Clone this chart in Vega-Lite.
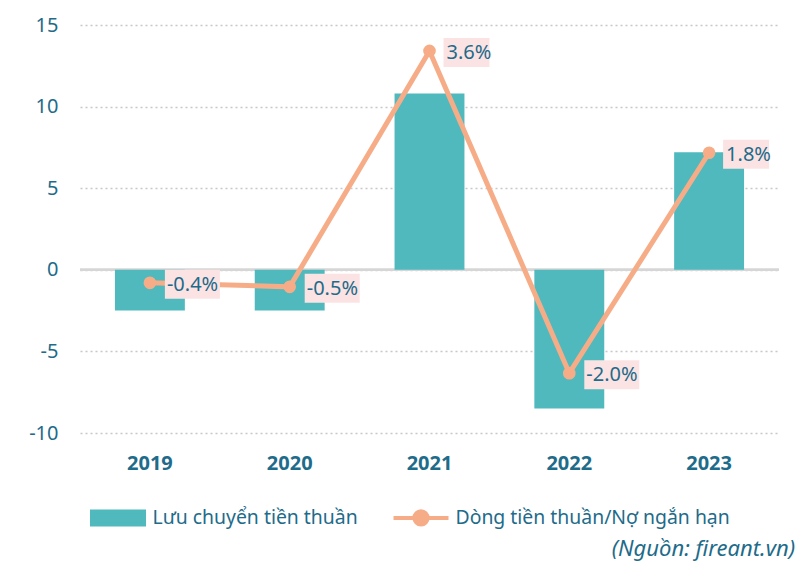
{
  "$schema": "https://vega.github.io/schema/vega-lite/v6.json",
  "width": 699,
  "height": 408,
  "autosize": "none",
  "padding": {"left": 80, "top": 25, "right": 22, "bottom": 132},
  "background": "white",
  "config": {
    "view": {"stroke": null},
    "font": "Noto Sans",
    "locale": {"number": {"decimal": ".", "thousands": ",", "grouping": [3], "currency": ["$", ""], "minus": "-"}}
  },
  "data": {
    "values": [
      {"year": "2019", "cf": -2.5, "ratio": -0.0043},
      {"year": "2020", "cf": -2.5, "ratio": -0.005},
      {"year": "2021", "cf": 10.8, "ratio": 0.036},
      {"year": "2022", "cf": -8.5, "ratio": -0.02},
      {"year": "2023", "cf": 7.2, "ratio": 0.0183}
    ]
  },
  "title": {
    "text": "(Nguồn: fireant.vn)",
    "orient": "bottom",
    "anchor": "start",
    "dx": 583,
    "offset": 6,
    "fontStyle": "italic",
    "fontWeight": "normal",
    "fontSize": 22,
    "font": "Noto Sans",
    "color": "#1E6B8A",
    "limit": 1000
  },
  "layer": [
    {
      "layer": [
        {
          "mark": {"type": "rule", "color": "#d6d6d6", "strokeWidth": 2},
          "encoding": {"y": {"datum": 0, "type": "quantitative"}}
        },
        {
          "mark": {"type": "bar"},
          "encoding": {
            "x": {
              "field": "year",
              "type": "ordinal",
              "scale": {"paddingInner": 0.5, "paddingOuter": 0.25},
              "axis": {
                "title": null,
                "domain": false,
                "ticks": false,
                "labelAngle": 0,
                "labelFontSize": 20,
                "labelFontWeight": "bold",
                "labelColor": "#1E6B8A",
                "labelPadding": 20
              }
            },
            "y": {
              "field": "cf",
              "type": "quantitative",
              "scale": {"domain": [-10, 15], "nice": false, "zero": false},
              "axis": {
                "title": null,
                "values": [-10, -5, 0, 5, 10, 15],
                "domain": false,
                "ticks": false,
                "grid": true,
                "gridDash": [2, 3],
                "gridColor": "#c8c8c8",
                "gridWidth": 1.5,
                "labelFontSize": 20,
                "labelColor": "#1E6B8A",
                "labelPadding": 22
              }
            },
            "color": {
              "datum": "Lưu chuyển tiền thuần",
              "type": "nominal",
              "scale": {
                "domain": ["Lưu chuyển tiền thuần", "Dòng tiền thuần/Nợ ngắn hạn"],
                "range": ["#4FB9BD", "#F6AD87"]
              },
              "legend": {
                "orient": "none",
                "legendX": 8.5,
                "legendY": 463,
                "direction": "horizontal",
                "title": null,
                "padding": 0,
                "labelFontSize": 19.4,
                "labelFont": "Noto Sans",
                "labelColor": "#1E6B8A",
                "labelOffset": 5,
                "labelLimit": 500,
                "columnPadding": 27,
                "symbolSize": 3025,
                "symbolStrokeWidth": 4,
                "encode": {
                  "symbols": {
                    "update": {
                      "shape": {"signal": "datum.index === 0 ? 'M-0.945,-0.236H0.945V0.236H-0.945Z' : 'M-1,0H1M0.24,0A0.24,0.24 0 1,1 -0.24,0A0.24,0.24 0 1,1 0.24,0Z'"},
                      "fill": {"signal": "datum.index === 0 ? '#4FB9BD' : '#F6AD87'"},
                      "stroke": {"signal": "datum.index === 0 ? 'transparent' : '#F6AD87'"},
                      "strokeWidth": {"value": 4},
                      "size": {"value": 3025},
                      "opacity": {"value": 1}
                    }
                  }
                }
              }
            }
          }
        }
      ]
    },
    {
      "encoding": {
        "x": {"field": "year", "type": "ordinal"},
        "y": {
          "field": "ratio",
          "type": "quantitative",
          "scale": {"domain": [-0.0304, 0.0405], "nice": false, "zero": false},
          "axis": null
        }
      },
      "layer": [
        {
          "mark": {"type": "line", "strokeWidth": 5},
          "encoding": {"color": {"datum": "Dòng tiền thuần/Nợ ngắn hạn", "type": "nominal"}}
        },
        {
          "mark": {"type": "point", "filled": true, "size": 160, "opacity": 1, "color": "#F6AD87"}
        },
        {
          "mark": {"type": "point", "filled": true, "size": 4, "opacity": 1, "color": "#FCE3E3", "strokeWidth": 0},
          "encoding": {
            "shape": {
              "condition": {"test": "datum.ratio < 0", "value": "M15,-13H70V16H15Z"},
              "value": "M14,-13H60V16H14Z"
            }
          }
        },
        {
          "mark": {"type": "text", "align": "left", "baseline": "middle", "dx": 17, "dy": 2, "fontSize": 20, "color": "#1E6B8A"},
          "encoding": {"text": {"field": "ratio", "type": "quantitative", "format": ".1%"}}
        }
      ]
    }
  ],
  "resolve": {"scale": {"y": "independent"}}
}
